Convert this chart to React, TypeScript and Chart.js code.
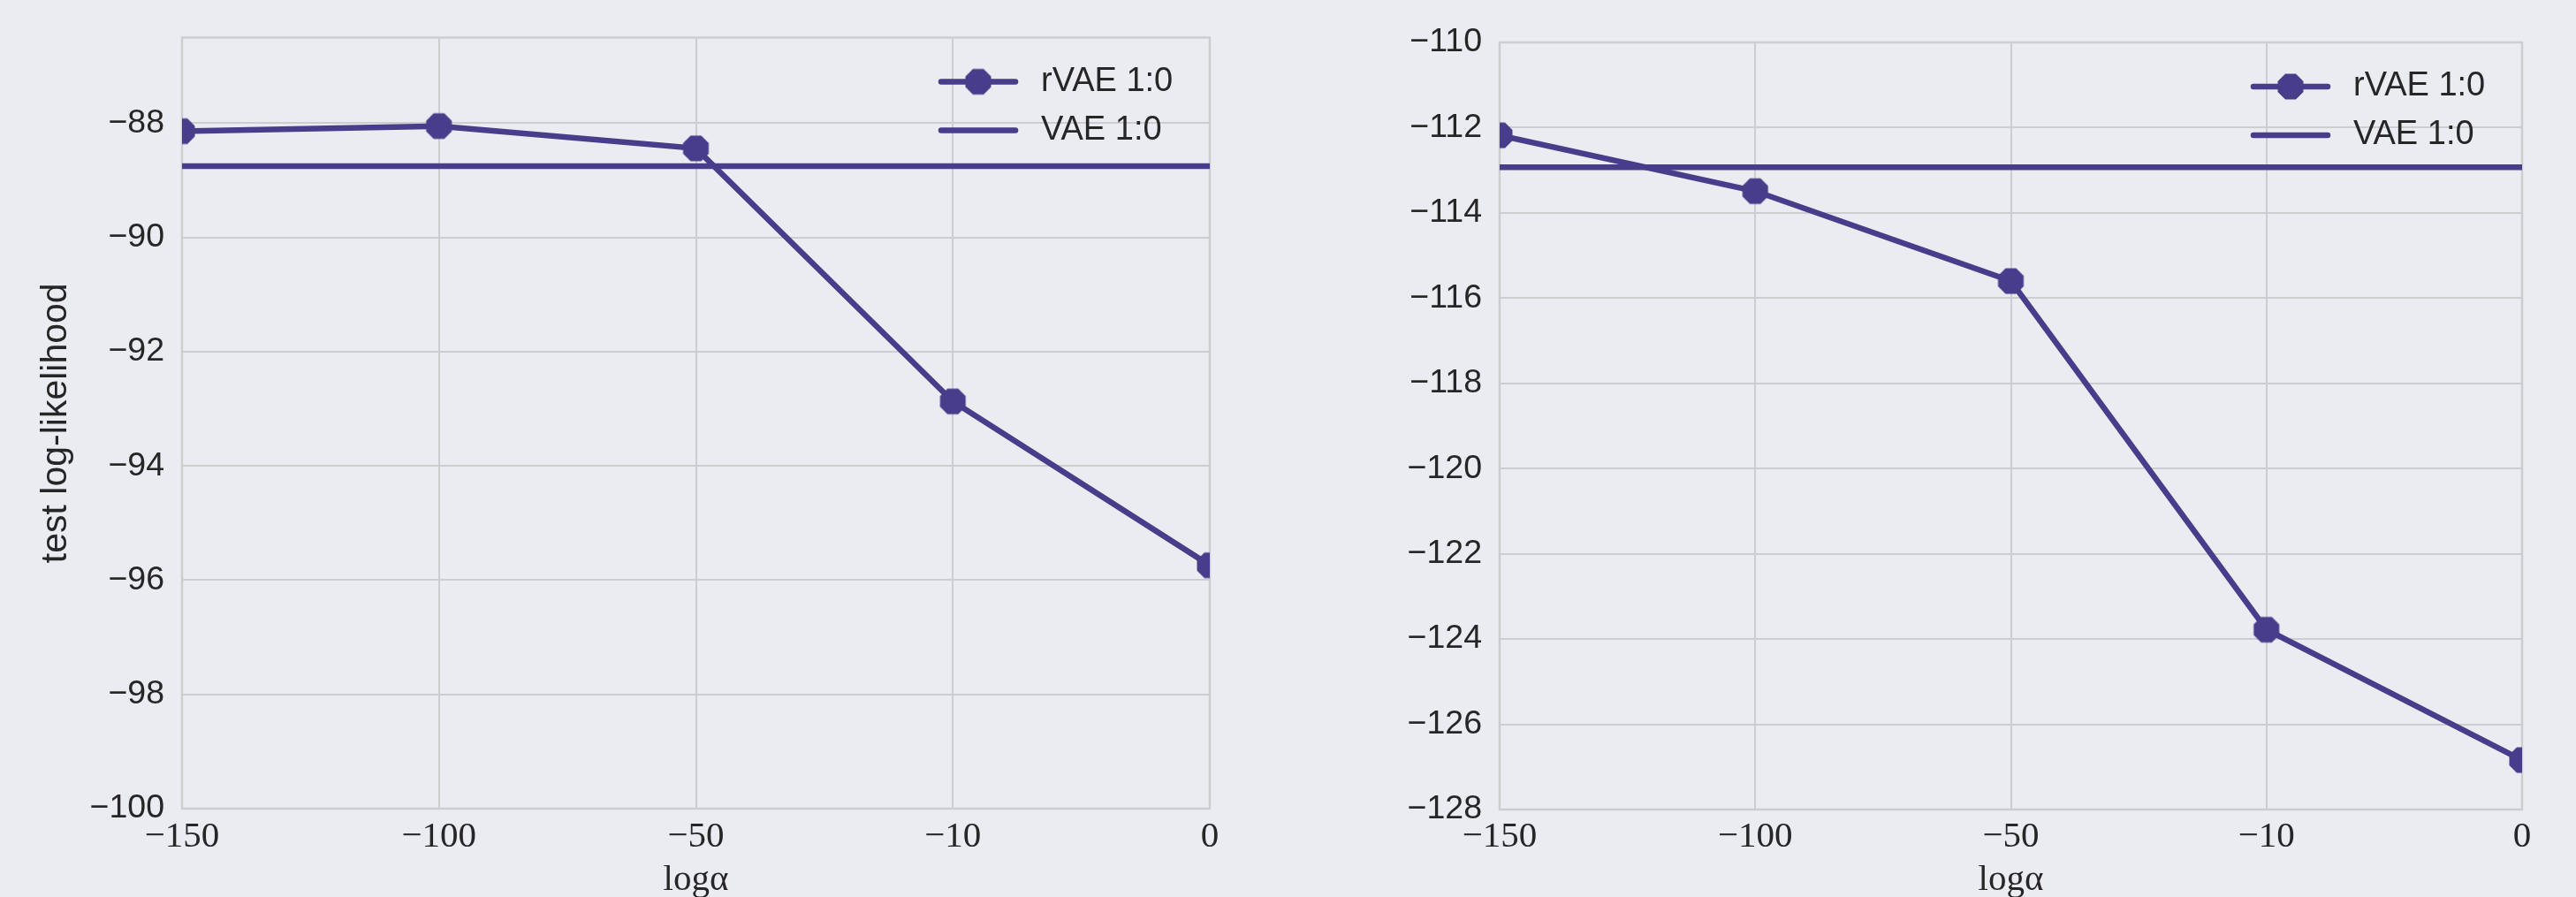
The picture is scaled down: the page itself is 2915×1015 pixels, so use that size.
import React, { useEffect, useRef } from 'react';
import { Chart, registerables } from 'chart.js';

Chart.register(...registerables);

// ---- data ----
const alphaValues = [-150, -100, -50, -10, 0];
const seriesNames = ['rVAE 1:0', 'VAE 1:0'];
const leftRVAE = [-88.14, -88.05, -88.44, -92.87, -95.74];
const leftVAE = -88.75;
const rightRVAE = [-112.18, -113.49, -115.6, -123.78, -126.84];
const rightVAE = -112.93;
const leftYTicks = [-100, -98, -96, -94, -92, -90, -88];
const rightYTicks = [-128, -126, -124, -122, -120, -118, -116, -114, -112, -110];
const leftYRange = [-100, -86.5];
const rightYRange = [-128, -110];
const yAxisTitle = 'test log-likelihood';
const xAxisTitle = 'logα';

// ---- style ----
const BG = '#EAECF2';
const GRID = '#CDCDD0';
const TEXT = '#262626';
const LINE = '#483D8B';
const SANS = '"Liberation Sans", Arial, Helvetica, sans-serif';
const SERIF = '"Liberation Serif", "DejaVu Serif", serif';

const fmt = (v: number) => (v < 0 ? '\u2212' + Math.abs(v) : String(v));

function makeOctagon(r: number, color: string) {
  const size = 34;
  const c = document.createElement('canvas');
  c.width = size;
  c.height = size;
  const ctx = c.getContext('2d')!;
  ctx.fillStyle = color;
  ctx.beginPath();
  for (let k = 0; k < 8; k++) {
    const a = Math.PI / 8 + (k * Math.PI) / 4;
    const x = size / 2 + r * Math.cos(a);
    const y = size / 2 + r * Math.sin(a);
    if (k === 0) ctx.moveTo(x, y);
    else ctx.lineTo(x, y);
  }
  ctx.closePath();
  ctx.fill();
  return c;
}

const framePlugin = {
  id: 'frameAndLegend',
  beforeDatasetsDraw(chart: any) {
    const { ctx, chartArea: a } = chart;
    ctx.save();
    ctx.strokeStyle = GRID;
    ctx.lineWidth = 2.5;
    ctx.strokeRect(a.left, a.top, a.right - a.left, a.bottom - a.top);
    ctx.restore();
  },
  afterDraw(chart: any) {
    const { ctx, chartArea: a } = chart;
    const ds = chart.data.datasets;
    ctx.save();
    ds.forEach((d: any, i: number) => {
      const y = a.top + 50 + i * 55;
      const x0 = a.right - 304;
      const x1 = a.right - 220;
      ctx.strokeStyle = d.borderColor;
      ctx.lineWidth = 6.5;
      ctx.lineCap = 'round';
      ctx.beginPath();
      ctx.moveTo(x0, y);
      ctx.lineTo(x1, y);
      ctx.stroke();
      if (d.pointRadius > 0 && d.pointStyle && typeof d.pointStyle === 'object') {
        const img = d.pointStyle as HTMLCanvasElement;
        ctx.drawImage(img, (x0 + x1) / 2 - img.width / 2, y - img.height / 2);
      }
      ctx.fillStyle = TEXT;
      ctx.font = '38px ' + SANS;
      ctx.textBaseline = 'middle';
      ctx.textAlign = 'left';
      ctx.fillText(d.label, a.right - 191, y);
    });
    ctx.restore();
  },
};

type PanelCfg = {
  x: number;
  w: number;
  top: number;
  right: number;
  yWidth: number;
  xHeight: number;
  xPad: number;
  rvae: number[];
  vae: number;
  yTicks: number[];
  yRange: number[];
  showYTitle: boolean;
};

function Panel({ cfg }: { cfg: PanelCfg }) {
  const ref = useRef<HTMLCanvasElement>(null);
  useEffect(() => {
    const oct = makeOctagon(15.7, LINE);
    const chart = new Chart(ref.current!, {
      type: 'line',
      data: {
        labels: alphaValues.map(fmt),
        datasets: [
          {
            label: seriesNames[0],
            data: cfg.rvae,
            borderColor: LINE,
            backgroundColor: LINE,
            borderWidth: 6.5,
            pointStyle: oct as any,
            pointRadius: 15,
            pointHoverRadius: 15,
            tension: 0,
            clip: 0 as any,
          },
          {
            label: seriesNames[1],
            data: alphaValues.map(() => cfg.vae),
            borderColor: LINE,
            backgroundColor: LINE,
            borderWidth: 6.5,
            pointRadius: 0,
            pointHoverRadius: 0,
            tension: 0,
            clip: 0 as any,
          },
        ],
      },
      options: {
        animation: false,
        responsive: false,
        devicePixelRatio: 1,
        events: [],
        layout: { padding: { left: 0, top: cfg.top, right: cfg.right, bottom: 0 } },
        plugins: { legend: { display: false }, tooltip: { enabled: false } },
        scales: {
          x: {
            type: 'category',
            offset: false,
            grid: { color: GRID, lineWidth: 2, drawTicks: false },
            border: { display: false },
            ticks: {
              color: TEXT,
              font: { family: SERIF, size: 41 },
              padding: cfg.xPad,
              maxRotation: 0,
              autoSkip: false,
            },
            title: {
              display: true,
              text: xAxisTitle,
              color: TEXT,
              font: { family: SERIF, size: 41 },
              padding: { top: 0, bottom: -6 },
            },
            afterFit: (s: any) => {
              s.height = cfg.xHeight;
            },
          } as any,
          y: {
            type: 'linear',
            min: cfg.yRange[0],
            max: cfg.yRange[1],
            afterBuildTicks: (s: any) => {
              s.ticks = cfg.yTicks.map((v) => ({ value: v }));
            },
            grid: { color: GRID, lineWidth: 2, drawTicks: false },
            border: { display: false },
            ticks: {
              color: TEXT,
              font: { family: SANS, size: 37.5 },
              padding: 20,
              callback: (v: any) => fmt(Number(v)),
            },
            title: {
              display: cfg.showYTitle,
              text: yAxisTitle,
              color: TEXT,
              font: { family: SANS, size: 41 },
              padding: { top: 39, bottom: 0 },
            },
            afterFit: (s: any) => {
              s.width = cfg.yWidth;
            },
          } as any,
        },
      },
      plugins: [framePlugin],
    });
    return () => chart.destroy();
  }, []);
  return (
    <canvas
      ref={ref}
      width={cfg.w}
      height={1015}
      style={{ position: 'absolute', left: cfg.x, top: 0, width: cfg.w, height: 1015, display: 'block' }}
    />
  );
}

const leftCfg: PanelCfg = {
  x: 0,
  w: 1457,
  top: 42,
  right: 88,
  yWidth: 206,
  xHeight: 100,
  xPad: 8,
  rvae: leftRVAE,
  vae: leftVAE,
  yTicks: leftYTicks,
  yRange: leftYRange,
  showYTitle: true,
};

const rightCfg: PanelCfg = {
  x: 1457,
  w: 1458,
  top: 48,
  right: 61,
  yWidth: 240,
  xHeight: 99,
  xPad: 7,
  rvae: rightRVAE,
  vae: rightVAE,
  yTicks: rightYTicks,
  yRange: rightYRange,
  showYTitle: false,
};

export default function App() {
  useEffect(() => {
    document.body.style.margin = '0';
    document.body.style.background = BG;
  }, []);
  return (
    <div
      style={{
        position: 'absolute',
        left: 0,
        top: 0,
        width: 2915,
        height: 1015,
        background: BG,
        overflow: 'hidden',
      }}
    >
      <Panel cfg={leftCfg} />
      <Panel cfg={rightCfg} />
    </div>
  );
}
